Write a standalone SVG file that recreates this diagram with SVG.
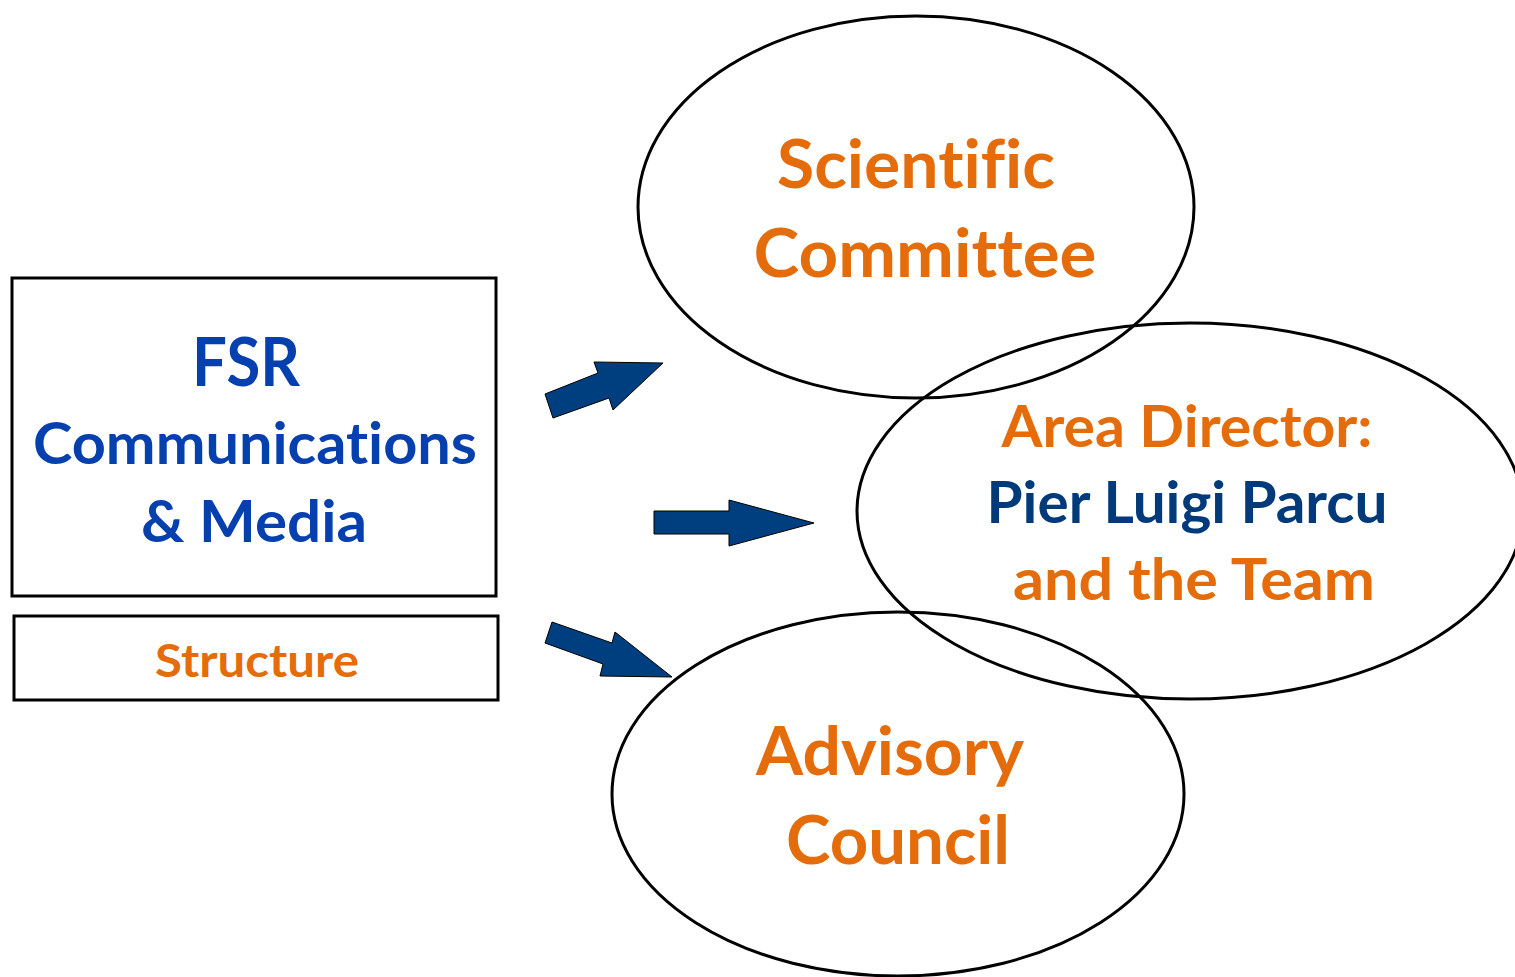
<svg xmlns="http://www.w3.org/2000/svg" width="1515" height="977" viewBox="0 0 1515 977">
<style>
.t{font-family:Lato,"Open Sans","Liberation Sans",sans-serif;font-weight:bold;text-anchor:middle;font-variant-ligatures:none;font-feature-settings:"liga" 0,"clig" 0,"dlig" 0}
.or{fill:#E46C0A}
.bl{fill:#0540AE}
.nv{fill:#003A7A}
.box{fill:#fff;stroke:#000;stroke-width:3}
.ell{fill:none;stroke:#000;stroke-width:3}
.arr{fill:#003F7F;stroke:#000;stroke-width:1}
</style>
<rect width="1515" height="977" fill="#fff"/>
<g id="fsr">
<rect class="box" x="12" y="278" width="484" height="318"/>
<text class="t bl" x="246" y="386" font-size="67" textLength="108" lengthAdjust="spacingAndGlyphs">FSR</text>
<text class="t bl" x="255" y="464" font-size="57" textLength="444" lengthAdjust="spacingAndGlyphs">Communications</text>
<text class="t bl" x="254" y="542" font-size="57" textLength="226" lengthAdjust="spacingAndGlyphs">&amp; Media</text>
</g>
<g id="structure">
<rect class="box" x="14" y="616" width="484" height="84"/>
<text class="t or" x="257" y="677" font-size="46" textLength="204" lengthAdjust="spacingAndGlyphs">Structure</text>
</g>
<g id="scientific">
<ellipse class="ell" cx="916" cy="207" rx="278" ry="191"/>
<text class="t or" x="916" y="188" font-size="67" textLength="278" lengthAdjust="spacingAndGlyphs">Scientific</text>
<text class="t or" x="925" y="277" font-size="67" textLength="343" lengthAdjust="spacingAndGlyphs">Committee</text>
</g>
<g id="director">
<ellipse class="ell" cx="1190" cy="511" rx="333" ry="188"/>
<text class="t or" x="1187" y="447" font-size="58" textLength="371" lengthAdjust="spacingAndGlyphs">Area Director:</text>
<text class="t nv" x="1187" y="523" font-size="58" textLength="401" lengthAdjust="spacingAndGlyphs">Pier Luigi Parcu</text>
<text class="t or" x="1194" y="600" font-size="58" textLength="362" lengthAdjust="spacingAndGlyphs">and the Team</text>
</g>
<g id="advisory">
<ellipse class="ell" cx="898" cy="794" rx="286" ry="182"/>
<text class="t or" x="890" y="775" font-size="66" textLength="268" lengthAdjust="spacingAndGlyphs">Advisory</text>
<text class="t or" x="898" y="864" font-size="66" textLength="224" lengthAdjust="spacingAndGlyphs">Council</text>
</g>
<g id="connectors">
<polygon class="arr" points="545,394 598,373 594,362 663,363 613,410 609,398 553,418"/>
<polygon class="arr" points="654,511 729,511 729,500 814,523 729,546 729,534 654,534"/>
<polygon class="arr" points="552,622 612,643 615,632 672,677 600,676 603,664 545,643"/>
</g>
</svg>
